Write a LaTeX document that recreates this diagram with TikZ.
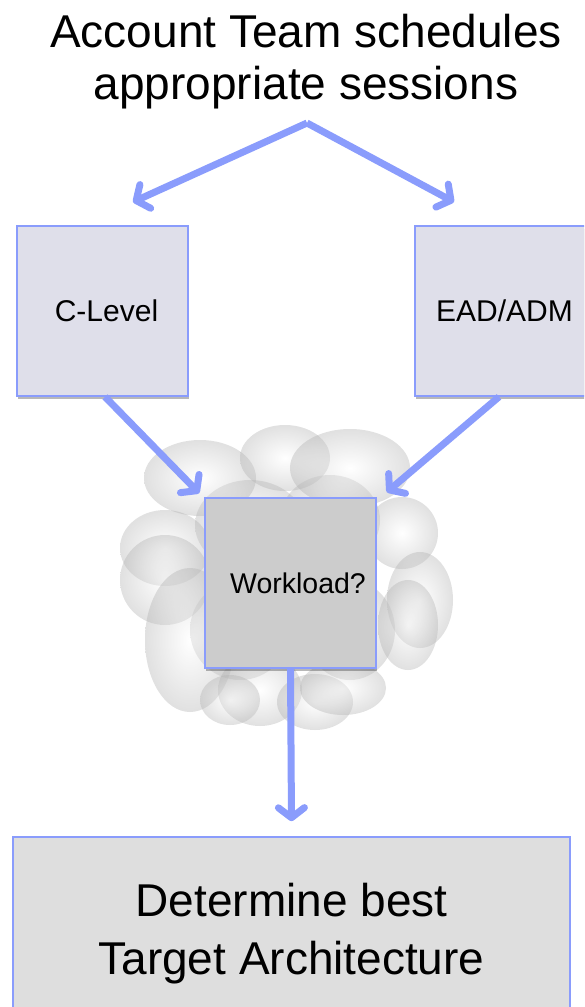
\documentclass[tikz,border=0pt]{standalone}
\usepackage{fontspec}
\setmainfont{Liberation Sans}
\usetikzlibrary{arrows.meta,shadows}

\definecolor{flowblue}{RGB}{138,156,252}
\definecolor{boxlilac}{RGB}{223,223,234}
\definecolor{boxgray}{RGB}{204,204,204}
\definecolor{boxlight}{RGB}{222,222,222}

\begin{document}
\begin{tikzpicture}[x=1pt,y=-1pt,
  box/.style={draw=flowblue, line width=1.6pt, inner sep=0pt, align=center,
    drop shadow={shadow xshift=1pt, shadow yshift=-3pt, opacity=0.28, fill=black}},
  flow/.style={draw=flowblue, line width=7pt,
    -{Straight Barb[length=10pt,width=26pt,round]},
    preaction={draw=black, opacity=0.12, transform canvas={yshift=-2.5pt}}},
  puff/.style={inner color=white, outer color=black!30, fill opacity=0.4},
  midtext/.style={font=\fontsize{30}{34}\selectfont},
  bigtext/.style={font=\fontsize{46}{52}\selectfont}]

\useasboundingbox (0,0) rectangle (584,1007);
\clip (0,0) rectangle (584,1007);

% cloud of soft overlapping puffs behind the workload box
\foreach \cx/\cy/\rx/\ry in {
    250/525/55/45, 330/520/50/45, 240/630/50/50, 350/630/45/50,
    200/478/56/38, 285/458/45/33, 350/468/60/39, 402/533/36/36,
    420/600/33/48, 408/625/30/45, 165/548/45/38, 165/580/45/45,
    190/640/45/72, 260/690/42/36, 315/702/38/28, 343/688/43/27,
    230/700/30/25, 300/560/60/60}
  \shade[puff] (\cx,\cy) ellipse [x radius=\rx, y radius=\ry];

% title
\node[bigtext, align=center, inner sep=0pt] (title) at (306,62)
  {Account Team schedules\\appropriate sessions};

% boxes
\node[box, fill=boxlilac, minimum width=171pt, minimum height=170pt, midtext]
  (clevel) at (102.5,311) {\hspace*{8pt}C-Level};
\node[box, fill=boxlilac, minimum width=172pt, minimum height=170pt, midtext]
  (ead) at (501,311) {\hspace*{7pt}EAD/ADM};
\node[box, fill=boxgray, minimum width=171pt, minimum height=170pt,
  font=\fontsize{28.5}{32}\selectfont]
  (work) at (290.5,583) {\hspace*{15pt}Workload?};
\node[box, fill=boxlight, minimum width=557pt, minimum height=193pt,
  font=\fontsize{46}{58}\selectfont]
  (target) at (291.5,933.5) {Determine best\\Target Architecture};

% fork below the title
\coordinate (apex) at (307,123);
\coordinate (tipL) at (133,202);
\coordinate (tipR) at (454,202);

\draw[flow] (apex) -- (tipL);
\draw[flow] (apex) -- (tipR);
\draw[flow] ([xshift=2.5pt]clevel.south) -- ([xshift=-5pt,yshift=4pt]work.north west);
\draw[flow] ([xshift=-2pt]ead.south) -- ([xshift=10pt,yshift=5pt]work.north east);
\draw[flow] (work.south) -- ([yshift=15pt]target.north);

\end{tikzpicture}
\end{document}
